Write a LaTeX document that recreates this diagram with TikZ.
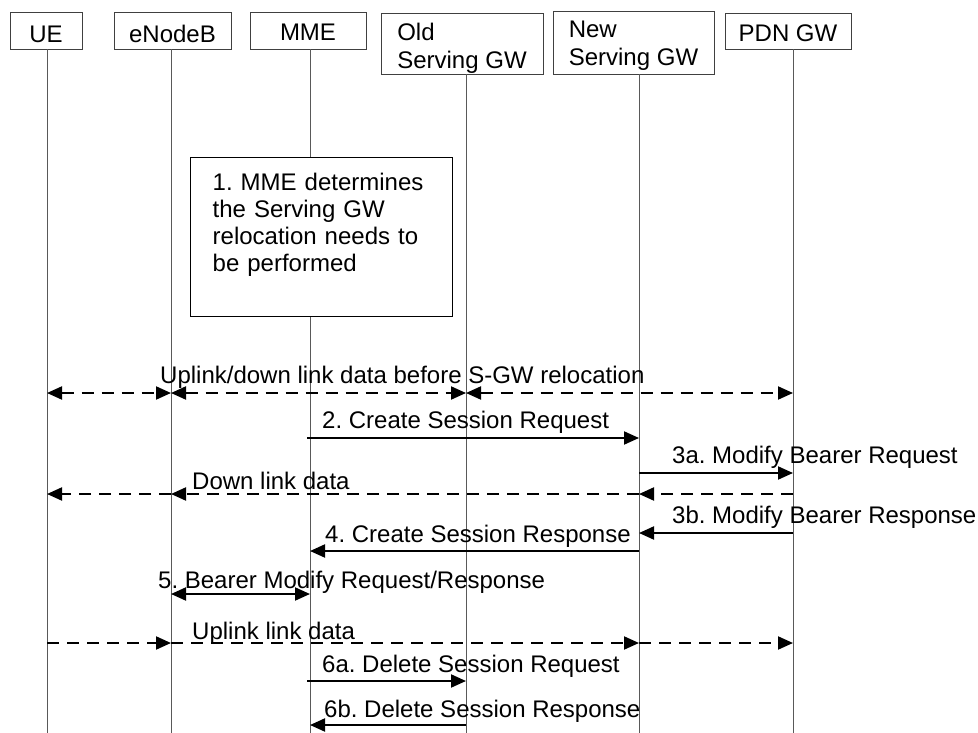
\documentclass[tikz,border=0pt]{standalone}
\usepackage{fontspec}
\setmainfont{Liberation Sans}
\usetikzlibrary{arrows.meta}
\begin{document}
\frenchspacing
\begin{tikzpicture}[x=1pt,y=-1pt,
  font=\fontsize{24}{28}\selectfont\frenchspacing,
  >={Triangle[length=15pt,width=13pt]},
  hdr/.style={draw=black!75, line width=0.9pt, inner sep=0pt, align=left},
  lifeline/.style={draw=black!65, line width=1pt},
  note/.style={draw=black, line width=1.4pt, fill=white, anchor=north west,
    text width=218pt, inner xsep=22pt, inner ysep=10pt, align=left,
    font=\fontsize{24}{27}\selectfont\frenchspacing, text height=23pt, text depth=116pt},
  msg/.style={line width=2pt},
  dmsg/.style={line width=2pt, dash pattern=on 12pt off 8pt},
  lbl/.style={anchor=base west, inner sep=0pt}]
\useasboundingbox (0,0) rectangle (978,733);

% header boxes
\node[hdr, minimum width=72pt, minimum height=37pt, text height=24.4pt, text depth=0pt] (ue) at (46,30.5) {UE};
\node[hdr, minimum width=117pt, minimum height=37pt, text height=24.4pt, text depth=0pt] (enb) at (172.5,30.5) {eNodeB};
\node[hdr, minimum width=116pt, minimum height=37pt, text height=21pt, text depth=0pt] (mme) at (308,30.5) {MME};
\node[hdr, minimum width=162pt, minimum height=61pt, text height=50pt, text depth=0pt] (old) at (462,43.5) {Old\\Serving GW};
\node[hdr, minimum width=161pt, minimum height=63pt, text height=47pt, text depth=0pt] (new) at (633.5,42.5) {New\\Serving GW};
\node[hdr, minimum width=126pt, minimum height=36pt, text height=21.4pt, text depth=0pt] (pdn) at (788,31) {PDN GW};

% lifeline positions
\coordinate (xUE) at (47,0);
\coordinate (xENB) at (171,0);
\coordinate (xMME) at (310,0);
\coordinate (xOLD) at (466,0);
\coordinate (xNEW) at (639,0);
\coordinate (xPDN) at (793,0);
\coordinate (bot) at (0,733);

\draw[lifeline] (xUE |- ue.south) -- (xUE |- bot);
\draw[lifeline] (xENB |- enb.south) -- (xENB |- bot);
\draw[lifeline] (xMME |- mme.south) -- (xMME |- bot);
\draw[lifeline] (xOLD |- old.south) -- (xOLD |- bot);
\draw[lifeline] (xNEW |- new.south) -- (xNEW |- bot);
\draw[lifeline] (xPDN |- pdn.south) -- (xPDN |- bot);

% note
\node[note] (n1) at (190,157) {1. MME determines\\the Serving GW\\relocation needs to\\be performed};

% rows
\coordinate (r0) at (0,393);
\coordinate (r1) at (0,438);
\coordinate (r2) at (0,473);
\coordinate (r3) at (0,494);
\coordinate (r4) at (0,533);
\coordinate (r5) at (0,551);
\coordinate (r6) at (0,594);
\coordinate (r7) at (0,643);
\coordinate (r8) at (0,681);
\coordinate (r9) at (0,725);

% Uplink/down link data before relocation
\draw[dmsg,<->] (xUE |- r0) -- (xENB |- r0);
\draw[dmsg,<->] (xENB |- r0) -- (xOLD |- r0);
\draw[dmsg,<->] (xOLD |- r0) -- (xPDN |- r0);
\node[lbl] (l0) at (160,383) {Uplink/down link data before S-GW relocation};

% 2
\draw[msg,->] ([xshift=-3pt]xMME |- r1) -- (xNEW |- r1);
\node[lbl] (l1) at (322,428) {2. Create Session Request};

% 3a
\draw[msg,->] (xNEW |- r2) -- (xPDN |- r2);
\node[lbl] (l2) at (672,463) {3a. Modify Bearer Request};

% Down link data
\draw[dmsg,->] (xPDN |- r3) -- (xNEW |- r3);
\draw[dmsg,->] (xNEW |- r3) -- (xENB |- r3);
\draw[dmsg,->] (xENB |- r3) -- (xUE |- r3);
\node[lbl] (l3) at (192,489) {Down link data};

% 3b
\draw[msg,->] (xPDN |- r4) -- (xNEW |- r4);
\node[lbl] (l4) at (672,523) {3b. Modify Bearer Response};

% 4
\draw[msg,->] (xNEW |- r5) -- (xMME |- r5);
\node[lbl] (l5) at (325,542) {4. Create Session Response};

% 5
\draw[msg,<->] (xENB |- r6) -- (xMME |- r6);
\node[lbl] (l6) at (158,588) {5. Bearer Modify Request/Response};

% Uplink link data
\draw[dmsg,->] (xUE |- r7) -- (xENB |- r7);
\draw[dmsg,->] (xENB |- r7) -- (xNEW |- r7);
\draw[dmsg,->] (xNEW |- r7) -- (xPDN |- r7);
\node[lbl] (l7) at (192,639) {Uplink link data};

% 6a
\draw[msg,->] ([xshift=-3pt]xMME |- r8) -- (xOLD |- r8);
\node[lbl] (l8) at (322,672) {6a. Delete Session Request};

% 6b
\draw[msg,->] (xOLD |- r9) -- (xMME |- r9);
\node[lbl] (l9) at (324,717) {6b. Delete Session Response};
\end{tikzpicture}
\end{document}
